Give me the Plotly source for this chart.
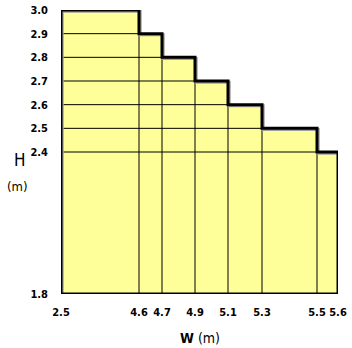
import plotly.graph_objects as go

# Data
w_labels = ["2.5", "4.6", "4.7", "4.9", "5.1", "5.3", "5.5", "5.6"]
w_pos = [0, 78, 101, 134, 167, 201, 256, 277]   # axis positions of the W edges (non-uniform axis)
h_values = [3.0, 2.9, 2.8, 2.7, 2.6, 2.5, 2.4]  # height of each W interval
h_ticks = [1.8, 2.4, 2.5, 2.6, 2.7, 2.8, 2.9, 3.0]
h_min = 1.8

# Step outline
ox, oy = [w_pos[0]], [h_min]
for i, h in enumerate(h_values):
    ox += [w_pos[i], w_pos[i + 1]]
    oy += [h, h]
ox += [w_pos[-1], w_pos[0]]
oy += [h_min, h_min]

# Grid lines clipped to the filled region
gx, gy = [], []
for lvl in h_ticks[1:-1]:
    last = max(i for i, h in enumerate(h_values) if h >= lvl - 1e-9)
    gx += [w_pos[0], w_pos[last + 1], None]
    gy += [lvl, lvl, None]
for i in range(1, len(w_pos) - 1):
    gx += [w_pos[i], w_pos[i], None]
    gy += [h_min, h_values[i], None]

fig = go.Figure()
fig.add_trace(go.Scatter(x=ox, y=oy, mode="lines", fill="toself",
                         fillcolor="#FFFF99", line=dict(width=0),
                         hoverinfo="skip", showlegend=False))
fig.add_trace(go.Scatter(x=gx, y=gy, mode="lines", line=dict(color="black", width=1),
                         hoverinfo="skip", showlegend=False))
# shadow
fig.add_trace(go.Scatter(x=ox, y=oy, mode="lines", line=dict(color="#a0a0a0", width=3),
                         hoverinfo="skip", showlegend=False, cliponaxis=False,
                         xaxis="x2", yaxis="y2"))
fig.add_trace(go.Scatter(x=ox, y=oy, mode="lines", line=dict(color="black", width=3),
                         hoverinfo="skip", showlegend=False, cliponaxis=False,
                         xaxis="x3", yaxis="y3"))

font = dict(family="DejaVu Sans Condensed", size=11, color="black")
fig.update_layout(
    width=352, height=348,
    margin=dict(l=61, r=14, t=10, b=54),
    plot_bgcolor="white", paper_bgcolor="white",
    xaxis=dict(range=[w_pos[0], w_pos[-1]], tickvals=w_pos, ticktext=[f"<b>{t}</b>" for t in w_labels],
               showgrid=False, zeroline=False, showline=False, ticks="", tickfont=font,
               ticklabelstandoff=10, fixedrange=True, automargin=False),
    yaxis=dict(range=[h_min, 3.0], tickvals=h_ticks, ticktext=[f"<b>{t:.1f}</b>" for t in h_ticks],
               showgrid=False, zeroline=False, showline=False, ticks="", tickfont=font,
               ticklabelstandoff=12, fixedrange=True, automargin=False),
    xaxis2=dict(range=[w_pos[0] - 1.2, w_pos[-1] - 1.2], overlaying="x", visible=False, automargin=False),
    yaxis2=dict(range=[h_min + 0.005, 3.0 + 0.005], overlaying="y", visible=False, automargin=False),
    xaxis3=dict(range=[w_pos[0], w_pos[-1]], overlaying="x", visible=False, automargin=False),
    yaxis3=dict(range=[h_min, 3.0], overlaying="y", visible=False, automargin=False),
    annotations=[
        dict(text="H", x=20, y=160, xref="paper", yref="paper", showarrow=False,
             font=dict(family="DejaVu Sans Condensed", size=17, color="black")),
        dict(text="(m)", x=17, y=187, xref="paper", yref="paper", showarrow=False,
             font=dict(family="DejaVu Sans Condensed", size=13, color="black")),
        dict(text="<b>W</b> (m)", x=200, y=338, xref="paper", yref="paper", showarrow=False,
             font=dict(family="DejaVu Sans Condensed", size=14, color="black")),
    ],
)
# convert annotation pixel positions to paper coords
pw, ph = 352 - 61 - 14, 348 - 10 - 54
for a in fig.layout.annotations:
    a.x = (a.x - 61) / pw
    a.y = (348 - 54 - a.y) / ph
    a.xanchor = "center"
    a.yanchor = "middle"

fig.write_html("out.html")
